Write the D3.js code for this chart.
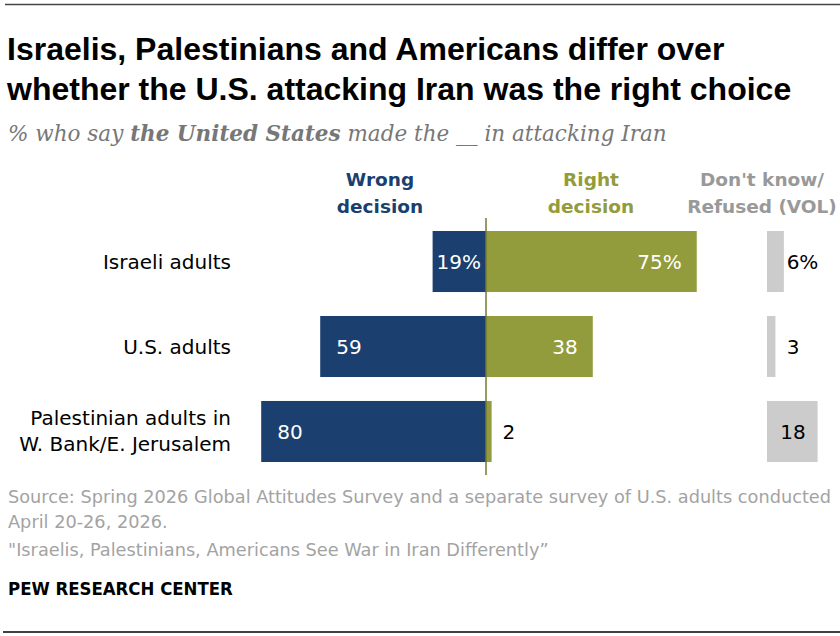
<!DOCTYPE html>
<html>
<head>
<meta charset="utf-8">
<script src="https://cdn.jsdelivr.net/npm/d3@7"></script>
<style>
  body { margin: 0; background: #fff; }
  svg { display: block; }
</style>
</head>
<body>
<svg width="840" height="636"></svg>
<script>
const groups = ["Israeli adults", "U.S. adults", "Palestinian adults in|W. Bank/E. Jerusalem"];
const wrong = [19, 59, 80];
const right = [75, 38, 2];
const dontKnow = [6, 3, 18];

const colors = { wrong: "#1b3f6f", right: "#939c3c", dk: "#cccccc" };
const sans = "'Liberation Sans', Arial, sans-serif";
const body = "'DejaVu Sans', sans-serif";

const svg = d3.select("svg");

// frame rules
svg.append("line").attr("x1", 5).attr("x2", 840).attr("y1", 4.5).attr("y2", 4.5)
  .attr("stroke", "#444").attr("stroke-width", 1.5);
svg.append("line").attr("x1", 3).attr("x2", 840).attr("y1", 632).attr("y2", 632)
  .attr("stroke", "#000").attr("stroke-width", 1.5);

// title
const title = svg.append("text").attr("font-family", sans).attr("font-weight", "bold")
  .attr("font-size", 32).attr("fill", "#000");
title.append("tspan").attr("x", 7).attr("y", 60).text("Israelis, Palestinians and Americans differ over");
title.append("tspan").attr("x", 7).attr("y", 100).text("whether the U.S. attacking Iran was the right choice");

const sub = svg.append("text").attr("x", 8).attr("y", 141)
  .attr("font-family", "'DejaVu Serif', Georgia, serif").attr("font-style", "italic")
  .attr("font-size", 21.5).attr("fill", "#777");
sub.append("tspan").text("% who say ");
sub.append("tspan").attr("font-weight", "bold").text("the United States");
sub.append("tspan").text(" made the __ in attacking Iran");

// scales
const center = 486, dkStart = 767;
const x = d3.scaleLinear().domain([0, 100]).range([0, 281]);
const y = d3.scaleBand().domain(groups).range([231, 462]).paddingInner(0.282).paddingOuter(0);

// column headers
const headers = [
  { lines: ["Wrong", "decision"], cx: 380, fill: colors.wrong },
  { lines: ["Right", "decision"], cx: 591, fill: colors.right },
  { lines: ["Don't know/", "Refused (VOL)"], cx: 762, fill: "#999" }
];
headers.forEach(h => {
  const t = svg.append("text").attr("font-family", body).attr("font-weight", "bold")
    .attr("font-size", 18.5).attr("fill", h.fill).attr("text-anchor", "middle");
  h.lines.forEach((l, i) => t.append("tspan").attr("x", h.cx).attr("y", 186 + i * 27).text(l));
});

// row labels
groups.forEach(g => {
  const lines = g.split("|");
  const cy = y(g) + y.bandwidth() / 2;
  const t = svg.append("text").attr("font-family", body).attr("font-size", 20)
    .attr("fill", "#000").attr("text-anchor", "end");
  lines.forEach((l, i) => {
    t.append("tspan").attr("x", 231).attr("y", cy + 7 + (i - (lines.length - 1) / 2) * 26).text(l);
  });
});

const rows = groups.map((g, i) => ({ g, wrong: wrong[i], right: right[i], dk: dontKnow[i], first: i === 0 }));

// bars
svg.selectAll(".wrong").data(rows).join("rect").attr("class", "wrong")
  .attr("x", d => center - x(d.wrong)).attr("y", d => y(d.g))
  .attr("width", d => x(d.wrong)).attr("height", y.bandwidth()).attr("fill", colors.wrong);
svg.selectAll(".right").data(rows).join("rect").attr("class", "right")
  .attr("x", center).attr("y", d => y(d.g))
  .attr("width", d => x(d.right)).attr("height", y.bandwidth()).attr("fill", colors.right);
svg.selectAll(".dk").data(rows).join("rect").attr("class", "dk")
  .attr("x", dkStart).attr("y", d => y(d.g))
  .attr("width", d => x(d.dk)).attr("height", y.bandwidth()).attr("fill", colors.dk);

// center line
svg.append("line").attr("x1", center).attr("x2", center).attr("y1", 218).attr("y2", 475)
  .attr("stroke", "#747a30").attr("stroke-width", 1.5);

// value labels
const labelFont = 20;
function fmt(v, first) { return first ? v + "%" : String(v); }

svg.selectAll(".wl").data(rows).join("text").attr("class", "wl")
  .attr("font-family", body).attr("font-size", labelFont).attr("fill", "#fff")
  .attr("y", d => y(d.g) + y.bandwidth() / 2 + 7.5)
  .text(d => fmt(d.wrong, d.first))
  .attr("x", function (d) {
    const w = this.getComputedTextLength();
    return Math.min(center - x(d.wrong) + 16, center - 5 - w);
  });

svg.selectAll(".rl").data(rows).join("text").attr("class", "rl")
  .attr("font-family", body).attr("font-size", labelFont)
  .attr("y", d => y(d.g) + y.bandwidth() / 2 + 7.5)
  .attr("x", d => x(d.right) > 40 ? center + x(d.right) - 15 : center + x(d.right) + 11)
  .attr("text-anchor", d => x(d.right) > 40 ? "end" : "start")
  .attr("fill", d => x(d.right) > 40 ? "#fff" : "#000")
  .text(d => fmt(d.right, d.first));

// don't know labels: number centred on a fixed column, % trailing
svg.selectAll(".dl").data(rows).join("text").attr("class", "dl")
  .attr("font-family", body).attr("font-size", labelFont).attr("fill", "#000")
  .attr("y", d => y(d.g) + y.bandwidth() / 2 + 7.5)
  .each(function (d) {
    const t = d3.select(this);
    t.append("tspan").text(d.dk);
    const w = this.getComputedTextLength();
    if (d.first) t.append("tspan").text("%");
    t.attr("x", 793 - w / 2);
  });

// footer, condensed face squeezed to the reference line width
const foot = "'DejaVu Sans Condensed', 'Liberation Sans Narrow', sans-serif";
const notes = [
  "Source: Spring 2026 Global Attitudes Survey and a separate survey of U.S. adults conducted",
  "April 20-26, 2026.",
  "\"Israelis, Palestinians, Americans See War in Iran Differently\u201d"
];
const noteY = [503, 528, 556];
const footer = svg.append("g");
const noteText = footer.selectAll("text").data(notes).join("text")
  .attr("x", 0).attr("y", (d, i) => noteY[i]).attr("font-family", foot)
  .attr("font-size", 17.5).attr("fill", "#a3a3a3").text(d => d);
const k = 824 / noteText.node().getComputedTextLength();
footer.attr("transform", `translate(8,0) scale(${k},1)`);

const pew = svg.append("text").attr("x", 0).attr("y", 595).attr("font-family", foot)
  .attr("font-weight", "bold").attr("font-size", 17.5).attr("fill", "#000")
  .text("PEW RESEARCH CENTER");
pew.attr("transform", `translate(8,0) scale(${225 / pew.node().getComputedTextLength()},1)`);
</script>
</body>
</html>
